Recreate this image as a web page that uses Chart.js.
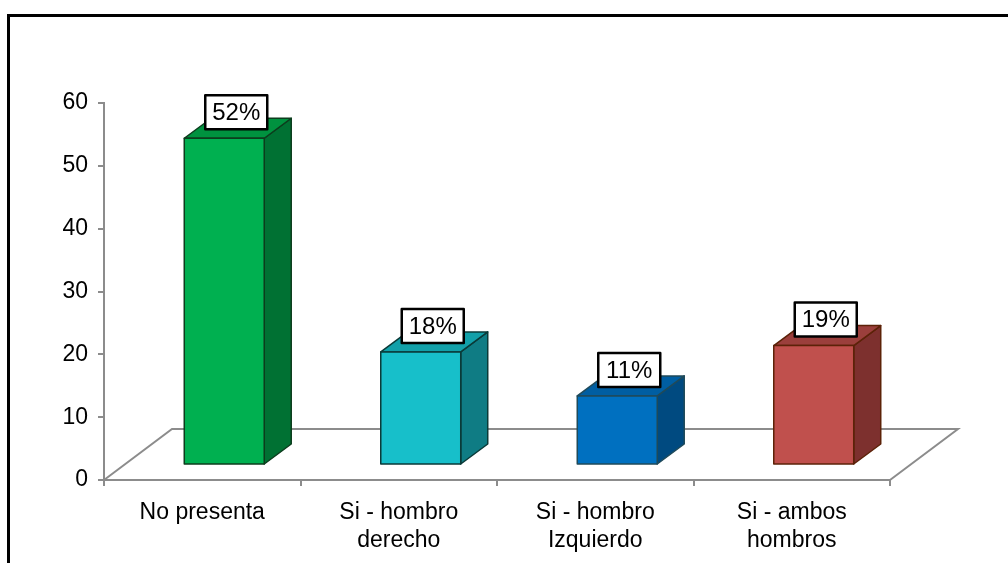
<!DOCTYPE html>
<html>
<head>
<meta charset="utf-8">
<script src="https://cdn.jsdelivr.net/npm/chart.js@4.4.1/dist/chart.umd.min.js"></script>
<style>
    body { margin: 0; background: #fff; }
    #wrap { width: 1008px; height: 563px; position: relative; }
</style>
</head>
<body>
<div id="wrap"><canvas id="grafico" width="1008" height="563"></canvas></div>
<script>
const categorias = [["No presenta"], ["Si - hombro", "derecho"], ["Si - hombro", "Izquierdo"], ["Si - ambos", "hombros"]];
const valores = [52, 18, 11, 19];
const etiquetas = ["52%", "18%", "11%", "19%"];
const yTicks = [0, 10, 20, 30, 40, 50, 60];

const frente = ["#00b050", "#17bfca", "#0070c0", "#c0504d"];
const lado = ["#007133", "#0f7c84", "#004a80", "#7d302e"];
const tapa = ["#00923f", "#12a0a9", "#005ea2", "#9b3f3c"];
const borde = ["#0c3d1d", "#0a3a38", "#1f4a5a", "#5c2208"];

const FONTE = "Liberation Sans, Arial, sans-serif";

// profundidade do "piso" 3D e das barras
const PISO_DX = 68, PISO_DY = -51;
const BARRA_DX = 27, BARRA_DY = -20;
const DESLOC_X = 22, DESLOC_Y = -15;

const barras3d = {
    id: "barras3d",
    beforeDraw(chart) {
        const ctx = chart.ctx;
        ctx.save();
        ctx.fillStyle = "#fff";
        ctx.fillRect(0, 0, chart.width, chart.height);
        ctx.fillStyle = "#000";
        ctx.fillRect(7, 14, chart.width, 3);
        ctx.fillRect(7, 14, 3, chart.height);
        ctx.restore();
    },
    beforeDatasetsDraw(chart) {
        const ctx = chart.ctx;
        const a = chart.chartArea;
        ctx.save();

        // piso
        ctx.strokeStyle = "#8c8c8c";
        ctx.lineWidth = 2;
        ctx.beginPath();
        ctx.moveTo(a.left, a.bottom);
        ctx.lineTo(a.left + PISO_DX, a.bottom + PISO_DY);
        ctx.lineTo(a.right + PISO_DX, a.bottom + PISO_DY);
        ctx.lineTo(a.right, a.bottom);
        ctx.stroke();

        const meta = chart.getDatasetMeta(0);
        meta.data.forEach((bar, i) => {
            const w = bar.width;
            const x0 = bar.x - w / 2 + DESLOC_X;
            const x1 = x0 + w;
            const yt = bar.y + DESLOC_Y;
            const yb = bar.base + DESLOC_Y;

            ctx.lineWidth = 1.5;
            ctx.strokeStyle = borde[i];
            ctx.lineJoin = "round";

            // lado
            ctx.fillStyle = lado[i];
            ctx.beginPath();
            ctx.moveTo(x1, yt);
            ctx.lineTo(x1 + BARRA_DX, yt + BARRA_DY);
            ctx.lineTo(x1 + BARRA_DX, yb + BARRA_DY);
            ctx.lineTo(x1, yb);
            ctx.closePath();
            ctx.fill();
            ctx.stroke();

            // tapa
            ctx.fillStyle = tapa[i];
            ctx.beginPath();
            ctx.moveTo(x0, yt);
            ctx.lineTo(x0 + BARRA_DX, yt + BARRA_DY);
            ctx.lineTo(x1 + BARRA_DX, yt + BARRA_DY);
            ctx.lineTo(x1, yt);
            ctx.closePath();
            ctx.fill();
            ctx.stroke();

            // frente
            ctx.fillStyle = frente[i];
            ctx.fillRect(x0, yt, w, yb - yt);
            ctx.strokeRect(x0, yt, w, yb - yt);
        });

        // rótulos
        ctx.font = "24px " + FONTE;
        ctx.textAlign = "center";
        ctx.textBaseline = "middle";
        meta.data.forEach((bar, i) => {
            const cx = bar.x + DESLOC_X + 12;
            const yTop = bar.y + DESLOC_Y;
            const bw = 62, bh = 34;
            const by = yTop - 9 - bh;
            ctx.fillStyle = "#fff";
            ctx.fillRect(cx - bw / 2, by, bw, bh);
            ctx.strokeStyle = "#000";
            ctx.lineWidth = 2.5;
            ctx.strokeRect(cx - bw / 2, by, bw, bh);
            ctx.fillStyle = "#000";
            ctx.fillText(etiquetas[i], cx, by + bh / 2 + 1);
        });

        ctx.restore();
        return false;
    }
};

new Chart(document.getElementById("grafico"), {
    type: "bar",
    data: {
        labels: categorias,
        datasets: [{
            data: valores,
            backgroundColor: frente,
            barPercentage: 0.407,
            categoryPercentage: 1
        }]
    },
    options: {
        responsive: false,
        animation: false,
        layout: { padding: { left: 0, top: 103, right: 118, bottom: 0 } },
        plugins: { legend: { display: false }, tooltip: { enabled: false } },
        scales: {
            x: {
                afterFit: s => { s.height = 83; },
                grid: { drawOnChartArea: false, color: "#8c8c8c", tickLength: 6, lineWidth: 2, offset: true },
                border: { color: "#8c8c8c", width: 2 },
                ticks: { color: "#000", font: { family: FONTE, size: 23 }, padding: 13, maxRotation: 0 }
            },
            y: {
                min: 0,
                max: 60,
                afterFit: s => { s.width = 104; },
                afterBuildTicks: s => { s.ticks = yTicks.map(v => ({ value: v })); },
                grid: { drawOnChartArea: false, color: "#8c8c8c", tickLength: 6, lineWidth: 2 },
                border: { color: "#8c8c8c", width: 2 },
                ticks: { color: "#000", font: { family: FONTE, size: 23 }, padding: 10 }
            }
        }
    },
    plugins: [barras3d]
});
</script>
</body>
</html>
